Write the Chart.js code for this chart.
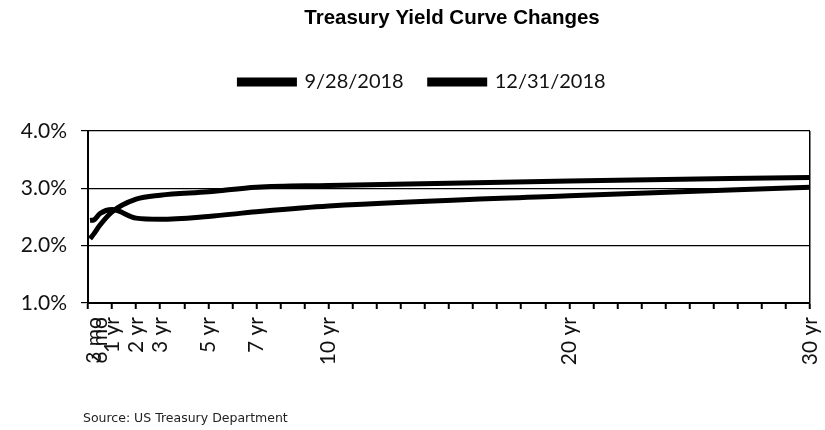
<!DOCTYPE html>
<html>
<head>
<meta charset="utf-8">
<script src="https://cdn.jsdelivr.net/npm/chart.js@4.4.1/dist/chart.umd.min.js"></script>
<style>
  html, body { margin: 0; padding: 0; background: #fff; }
  #wrap { width: 825px; height: 430px; position: relative; }
</style>
</head>
<body>
<div id="wrap"><canvas id="yc"></canvas></div>
<script>
// maturities in years (1 mo, 3 mo, 6 mo, 1, 2, 3, 5, 7, 10, 20, 30)
const maturities = [1 / 12, 0.25, 0.5, 1, 2, 3, 5, 7, 10, 20, 30];
const sep2018 = [2.12, 2.21, 2.36, 2.59, 2.81, 2.88, 2.94, 3.02, 3.05, 3.13, 3.19];
const dec2018 = [2.44, 2.45, 2.56, 2.63, 2.48, 2.46, 2.51, 2.59, 2.69, 2.87, 3.02];
const seriesNames = ['9/28/2018', '12/31/2018'];

const tickLabelValues = [0.25, 0.5, 1, 2, 3, 5, 7, 10, 20, 30];
const tickLabelText = ['3 mo', '6 mo', '1 yr', '2 yr', '3 yr', '5 yr', '7 yr', '10 yr', '20 yr', '30 yr'];
const yTicks = [1, 2, 3, 4];

const chartTitle = 'Treasury Yield Curve Changes';
const sourceNote = 'Source: US Treasury Department';

const toPoints = (vals) => maturities.map((m, i) => ({ x: m, y: vals[i] }));

// title + source drawn as text on the canvas
const textBits = {
    id: 'textBits',
    afterDraw(chart) {
        const ctx = chart.ctx;
        ctx.save();
        ctx.fillStyle = '#000';
        ctx.textBaseline = 'middle';
        ctx.textAlign = 'center';
        ctx.font = 'bold 20.5px "Liberation Sans", Arial, sans-serif';
        ctx.fillText(chartTitle, 452, 18);
        ctx.textAlign = 'left';
        ctx.font = '12.5px "DejaVu Sans", sans-serif';
        ctx.fillStyle = '#222';
        ctx.fillText(sourceNote, 83, 419);
        ctx.restore();
    }
};

// extra room under the legend so the plot starts lower
const legendGap = {
    id: 'legendGap',
    beforeInit(chart) {
        const fit = chart.legend.fit;
        chart.legend.fit = function () {
            fit.bind(chart.legend)();
            this.height += 29;
        };
    }
};

const axisFont = { family: 'Lato, "Open Sans", sans-serif', size: 21 };

new Chart(document.getElementById('yc'), {
    type: 'line',
    data: {
        datasets: [
            {
                label: seriesNames[0],
                data: toPoints(sep2018),
                borderColor: '#000',
                backgroundColor: '#000',
                borderWidth: 5,
                pointRadius: 0,
                cubicInterpolationMode: 'monotone'
            },
            {
                label: seriesNames[1],
                data: toPoints(dec2018),
                borderColor: '#000',
                backgroundColor: '#000',
                borderWidth: 5,
                pointRadius: 0,
                cubicInterpolationMode: 'monotone'
            }
        ]
    },
    options: {
        responsive: true,
        maintainAspectRatio: false,
        animation: false,
        layout: { padding: { top: 46, right: 0, left: 20, bottom: 0 } },
        plugins: {
            tooltip: { enabled: false },
            legend: {
                position: 'top',
                labels: {
                    color: '#111',
                    font: { family: 'Lato, "Open Sans", sans-serif', size: 20 },
                    boxWidth: 55,
                    boxHeight: 4,
                    padding: 26
                }
            }
        },
        scales: {
            x: {
                type: 'linear',
                min: 0,
                max: 30,
                afterBuildTicks: (scale) => {
                    const vals = [];
                    for (let i = 0; i <= 30; i++) vals.push(i);
                    vals.push(0.25, 0.5);
                    vals.sort((a, b) => a - b);
                    scale.ticks = vals.map(v => ({ value: v }));
                },
                afterFit: (scale) => {
                    scale.height = 127;
                    scale.paddingLeft = 0;
                    scale.paddingRight = 15;
                },
                ticks: {
                    autoSkip: false,
                    minRotation: 90,
                    maxRotation: 90,
                    color: '#111',
                    font: axisFont,
                    padding: 8,
                    callback: (v) => {
                        const i = tickLabelValues.indexOf(v);
                        return i >= 0 ? tickLabelText[i] : '';
                    }
                },
                grid: {
                    drawOnChartArea: true,
                    color: (c) => (c.tick && c.tick.value === 30 ? '#000' : 'rgba(0,0,0,0)'),
                    tickColor: (c) => (c.tick && Number.isInteger(c.tick.value) ? '#000' : 'rgba(0,0,0,0)'),
                    tickLength: 6,
                    lineWidth: 1.5,
                    tickWidth: 2
                },
                border: { display: true, color: '#000', width: 2 }
            },
            y: {
                min: 1,
                max: 4,
                afterBuildTicks: (scale) => { scale.ticks = yTicks.map(v => ({ value: v })); },
                afterFit: (scale) => { scale.width = 68; },
                ticks: {
                    color: '#111',
                    font: axisFont,
                    padding: 14,
                    callback: (v) => v.toFixed(1) + '%'
                },
                grid: {
                    color: '#000',
                    lineWidth: 1.2,
                    tickLength: 7,
                    tickColor: '#000'
                },
                border: { display: true, color: '#000', width: 2 }
            }
        }
    },
    plugins: [textBits, legendGap]
});
</script>
</body>
</html>
